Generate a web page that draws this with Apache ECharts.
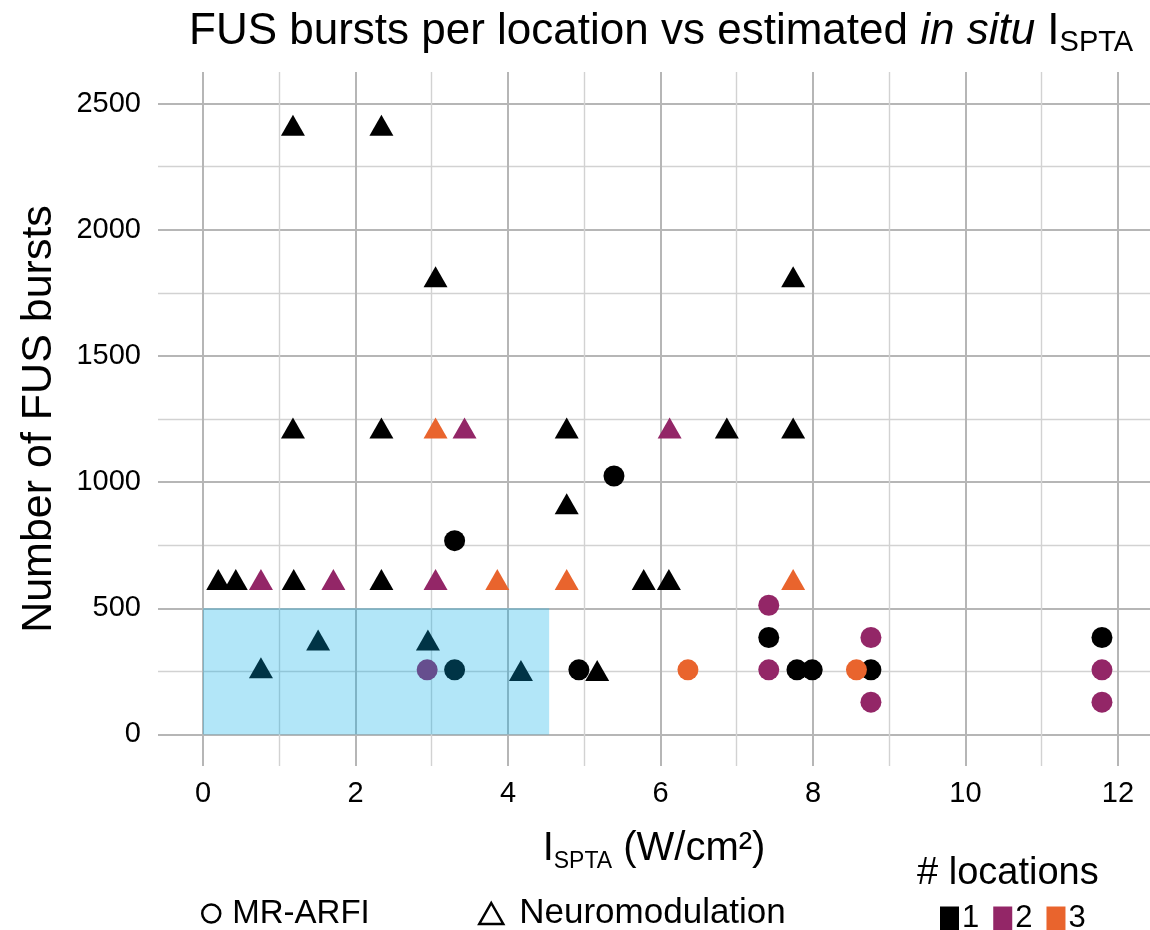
<!DOCTYPE html>
<html><head><meta charset="utf-8">
<script src="https://cdn.jsdelivr.net/npm/echarts@6/dist/echarts.min.js"></script>
<style>html,body{margin:0;padding:0;background:#fff}#c{width:1150px;height:930px}</style>
</head><body><div id="c"></div>
<script>
// ---- tick values ----
const xMajorTicks = [0, 2, 4, 6, 8, 10, 12];
const xMinorTicks = [1, 3, 5, 7, 9, 11];
const yMajorTicks = [0, 500, 1000, 1500, 2000, 2500];
const yMinorTicks = [250, 750, 1250, 1750, 2250];

// ---- MR-ARFI (circles): I_SPTA, bursts, # locations ----
const arfiX   = [2.94, 3.30, 3.30, 4.93, 5.39, 6.36, 7.42, 7.42, 7.42, 7.79, 7.99, 8.76, 8.57, 8.76, 8.76, 11.79, 11.79, 11.79];
const arfiY   = [256, 256, 768, 256, 1024, 256, 512, 384, 256, 256, 256, 256, 256, 384, 128, 384, 256, 128];
const arfiLoc = [2, 1, 1, 1, 1, 3, 2, 1, 2, 1, 1, 1, 3, 2, 2, 1, 2, 2];

// ---- Neuromodulation (triangles) ----
const neuroX   = [1.18, 2.34, 3.05, 7.74,
                  1.18, 2.34, 3.05, 3.43, 4.77, 6.12, 6.87, 7.74,
                  4.77,
                  0.20, 0.43, 0.76, 1.19, 1.71, 2.34, 3.05, 3.86, 4.77, 5.78, 6.11, 7.74,
                  1.51, 2.95, 0.76, 4.17, 5.17];
const neuroY   = [2400, 2400, 1800, 1800,
                  1200, 1200, 1200, 1200, 1200, 1200, 1200, 1200,
                  900,
                  600, 600, 600, 600, 600, 600, 600, 600, 600, 600, 600, 600,
                  360, 360, 250, 240, 240];
const neuroLoc = [1, 1, 1, 1,
                  1, 1, 3, 2, 1, 2, 1, 1,
                  1,
                  1, 1, 2, 1, 2, 1, 2, 3, 3, 1, 1, 3,
                  1, 1, 1, 1, 1];

// ---- highlighted region ----
const boxX = [0, 4.54];
const boxY = [0, 500];

const locLabels = ['1', '2', '3'];
const locColors = ['#000000', '#932667', '#E9642D'];

const FONT = "'Liberation Sans', Arial, Helvetica, sans-serif";
const MAJOR = '#b6b6b6', MINOR = '#d2d2d2';

const arfiData = arfiX.map((x, i) => [x, arfiY[i], arfiLoc[i]]);
const neuroData = neuroX.map((x, i) => [x, neuroY[i], neuroLoc[i]]);

const xMin = -0.59, xMax = 12.42, yMin = -125, yMax = 2625;

const chart = echarts.init(document.getElementById('c'), null, {renderer: 'canvas'});
chart.setOption({
  animation: false,
  backgroundColor: '#ffffff',
  textStyle: {fontFamily: FONT},
  title: {
    text: 'FUS bursts per location vs estimated {it|in situ} I{sub|SPTA}',
    left: 189, top: 6, padding: 0,
    textStyle: {
      fontSize: 44, fontWeight: 'normal', color: '#000', fontFamily: FONT,
      rich: {
        it: {fontSize: 44, fontStyle: 'italic', color: '#000', fontFamily: FONT},
        sub: {fontSize: 29, color: '#000', fontFamily: FONT, padding: [22, 0, 0, 0]}
      }
    }
  },
  grid: {left: 158, right: 0, top: 72, bottom: 164, containLabel: false},
  xAxis: [{
    type: 'value', min: xMin, max: xMax, position: 'bottom',
    axisLine: {show: false},
    axisTick: {show: true, length: 8, customValues: xMajorTicks, lineStyle: {color: MAJOR, width: 2}},
    axisLabel: {customValues: xMajorTicks, fontSize: 29, color: '#000', margin: 13, fontFamily: FONT,
                formatter: v => String(v)},
    splitLine: {show: true, lineStyle: {color: MAJOR, width: 2}},
    name: '{m|I}{sub|SPTA}{m| (W/cm²)}',
    nameLocation: 'middle', nameGap: 59,
    nameTextStyle: {
      fontSize: 40, color: '#000', fontFamily: FONT,
      rich: {
        m: {fontSize: 40, color: '#000', fontFamily: FONT},
        sub: {fontSize: 23, color: '#000', fontFamily: FONT, padding: [25, 0, 0, 0]}
      }
    }
  }, {
    type: 'value', min: xMin, max: xMax, position: 'bottom',
    axisLine: {show: false},
    axisTick: {show: false, customValues: xMinorTicks},
    axisLabel: {show: false, customValues: xMinorTicks},
    splitLine: {show: true, lineStyle: {color: MINOR, width: 1.4}}
  }],
  yAxis: [{
    type: 'value', min: yMin, max: yMax, position: 'left',
    axisLine: {show: false},
    axisTick: {show: true, length: 9, customValues: yMajorTicks, lineStyle: {color: MAJOR, width: 2}},
    axisLabel: {customValues: yMajorTicks, fontSize: 29, color: '#000', margin: 17, fontFamily: FONT,
                formatter: v => String(v)},
    splitLine: {show: true, lineStyle: {color: MAJOR, width: 2}},
    name: 'Number of FUS bursts', nameLocation: 'middle', nameGap: 97,
    nameTextStyle: {fontSize: 43, color: '#000', fontFamily: FONT}
  }, {
    type: 'value', min: yMin, max: yMax, position: 'left',
    axisLine: {show: false},
    axisTick: {show: false, customValues: yMinorTicks},
    axisLabel: {show: false, customValues: yMinorTicks},
    splitLine: {show: true, lineStyle: {color: MINOR, width: 1.4}}
  }],
  legend: [{
    left: 201, top: 897, padding: 0, selectedMode: false,
    itemWidth: 18, itemHeight: 18,
    textStyle: {fontSize: 33, color: '#000', fontFamily: FONT, padding: [0, 0, 0, 7]},
    data: [{name: 'MR-ARFI', icon: 'circle', itemStyle: {color: '#fff', borderColor: '#000', borderWidth: 2.5}}]
  }, {
    left: 478, top: 896, padding: 0, selectedMode: false,
    itemWidth: 24, itemHeight: 21,
    textStyle: {fontSize: 35, color: '#000', fontFamily: FONT, padding: [0, 0, 0, 11]},
    data: [{name: 'Neuromodulation', icon: 'triangle', itemStyle: {color: '#fff', borderColor: '#000', borderWidth: 2.5}}]
  }],
  visualMap: {
    type: 'piecewise', dimension: 2, seriesIndex: [0, 1],
    orient: 'horizontal', left: 940, top: 903, padding: 0,
    itemWidth: 19, itemHeight: 24, itemGap: 14, textGap: 3, itemSymbol: 'rect',
    selectedMode: false, hoverLink: false,
    pieces: locLabels.map((l, i) => ({value: i + 1, label: l, color: locColors[i]})),
    textStyle: {fontSize: 31, color: '#000', fontFamily: FONT}
  },
  graphic: [{
    type: 'text', left: 917, top: 855,
    style: {text: '# locations', fontSize: 38, fill: '#000', fontFamily: FONT}
  }],
  series: [{
    name: 'MR-ARFI', type: 'scatter', xAxisIndex: 0, yAxisIndex: 0,
    symbol: 'circle', symbolSize: 21, data: arfiData, z: 3,
    itemStyle: {opacity: 1},
    emphasis: {disabled: true}
  }, {
    name: 'Neuromodulation', type: 'scatter', xAxisIndex: 0, yAxisIndex: 0,
    symbol: 'triangle', symbolSize: [24, 21], symbolOffset: [0, -3.5], data: neuroData, z: 4,
    itemStyle: {opacity: 1},
    emphasis: {disabled: true}
  }, {
    name: 'region', type: 'custom', xAxisIndex: 0, yAxisIndex: 0, z: 10, silent: true,
    data: [[boxX[0], boxY[0], boxX[1], boxY[1]]],
    renderItem: function (params, api) {
      const p0 = api.coord([api.value(0), api.value(3)]);
      const p1 = api.coord([api.value(2), api.value(1)]);
      return {type: 'rect', shape: {x: p0[0], y: p0[1], width: p1[0] - p0[0], height: p1[1] - p0[1]},
              style: {fill: 'rgba(0,171,231,0.3)'}};
    }
  }]
});
</script></body></html>
